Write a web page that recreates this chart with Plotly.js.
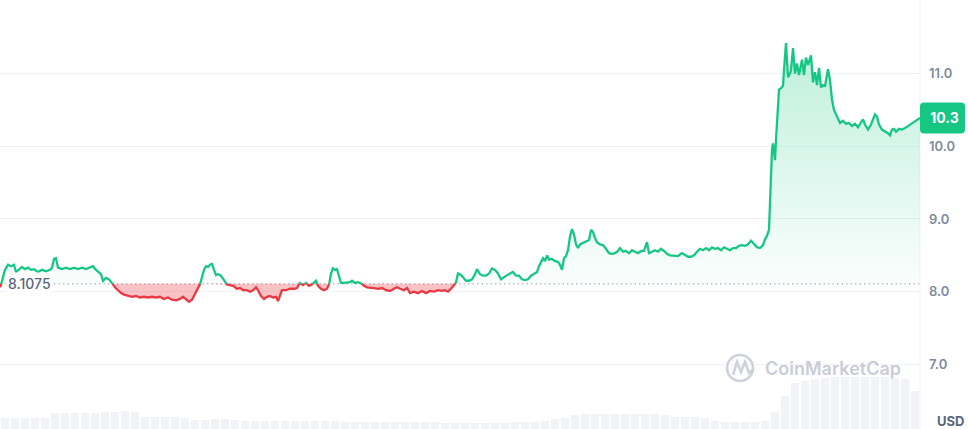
<!DOCTYPE html>
<html><head><meta charset="utf-8">
<script src="https://cdn.plot.ly/plotly-3.0.1.min.js"></script>
<style>html,body{margin:0;padding:0;background:#fff}#chart{width:968px;height:429px}</style>
</head><body><div id="chart"></div>
<script>
// ---- data ----
const basePrice = 8.1075;
const baseLabel = '8.1075';
const lastLabel = '10.3';
const currency = 'USD';
const brand = 'CoinMarketCap';
const yTickVals = [7, 8, 9, 10, 11];
const yTickText = ['7.0', '8.0', '9.0', '10.0', '11.0'];

const timeIdx = [0,1.5,5,8,11,14,16,19,22,25,28,31,34,38,42,46,50,52,54,56,58,62,66,70,74,78,82,86,90,93,96,99,101,103,106,109,112,115,118,121,124,128,132,136,140,144,148,152,156,160,164,168,172,176,180,183,186,189,192,195,198,200,202,204,206,208,210,212,214,216,218,220,222,224,227,230,233,237,240,243,247,250,253,256,258,261,264,267,270,273,276,278,280,282,286,290,294,297,300,303,306,309,312,315,316,318,321,324,327,329,331,333,335,337,339,341,344,347,350,352,355,358,361,364,367,370,374,378,382,386,390,394,397,400,404,407,410,414,418,422,426,430,434,438,442,445,448,451,454,456,458,461,463,466,469,472,475,477,480,483,486,489,492,495,498,501,504,507,510,513,516,519,522,525,528,531,534,537,539,541,543,545,547,549,552,555,558,560,562,564,566,568,570,572,574,576,578,580,583,586,589,591,593,595,597,600,603,606,609,612,615,618,620,623,626,629,632,635,638,641,644,647,649,652,655,658,661,664,667,670,674,678,682,685,688,691,694,697,700,703,706,709,712,715,718,721,724,727,730,733,736,739,742,745,748,751,754,757,760,763,765,767,769,770,771,772,773,774,775,776,777,778,779,781,783,784,786,788,790,791,793,795,797,799,802,804,806,808,811,813,815,817,819,821,823,825,828,830,832,834,836,838,840,843,846,849,852,855,858,861,863,865,868,871,873,875,877,879,882,885,888,890,892,894,896,899,902,905,908,911,914,917,920];
const price = [8.06,8.12,8.30,8.37,8.35,8.37,8.27,8.30,8.34,8.31,8.33,8.30,8.31,8.27,8.30,8.28,8.30,8.33,8.45,8.46,8.33,8.31,8.33,8.31,8.33,8.31,8.33,8.31,8.33,8.35,8.30,8.27,8.24,8.15,8.19,8.17,8.12,8.06,8.02,7.98,7.96,7.94,7.93,7.94,7.92,7.93,7.92,7.93,7.92,7.93,7.90,7.92,7.89,7.88,7.90,7.93,7.89,7.86,7.89,7.97,8.05,8.10,8.20,8.30,8.35,8.34,8.37,8.38,8.30,8.23,8.24,8.23,8.20,8.15,8.10,8.09,8.08,8.04,8.05,8.02,8.02,8.00,8.02,8.06,8.02,7.94,7.90,7.93,7.94,7.92,7.93,7.87,7.96,8.02,8.02,8.04,8.04,8.05,8.12,8.09,8.12,8.08,8.10,8.13,8.15,8.08,8.04,8.02,8.04,8.09,8.25,8.32,8.30,8.31,8.22,8.12,8.12,8.13,8.13,8.15,8.12,8.13,8.12,8.08,8.06,8.06,8.05,8.04,8.05,8.02,8.01,8.04,8.06,8.04,8.02,8.05,7.98,8.00,7.98,8.01,7.98,8.01,8.00,8.02,8.01,8.02,8.00,8.04,8.08,8.13,8.25,8.23,8.20,8.15,8.15,8.17,8.24,8.31,8.24,8.22,8.22,8.25,8.32,8.30,8.25,8.17,8.20,8.23,8.25,8.27,8.22,8.22,8.17,8.16,8.17,8.22,8.24,8.27,8.35,8.41,8.46,8.42,8.50,8.44,8.45,8.42,8.41,8.37,8.30,8.46,8.49,8.57,8.76,8.86,8.79,8.65,8.60,8.65,8.67,8.70,8.71,8.85,8.82,8.74,8.68,8.65,8.64,8.59,8.53,8.52,8.53,8.56,8.60,8.55,8.56,8.53,8.57,8.55,8.53,8.56,8.56,8.68,8.53,8.55,8.57,8.55,8.59,8.56,8.52,8.50,8.50,8.49,8.53,8.50,8.48,8.48,8.50,8.55,8.59,8.57,8.60,8.57,8.61,8.59,8.60,8.57,8.61,8.59,8.57,8.60,8.60,8.63,8.64,8.63,8.65,8.70,8.65,8.61,8.60,8.64,8.72,8.77,8.85,9.26,9.67,9.95,10.04,9.87,9.81,10.09,10.36,10.64,10.78,10.80,10.83,11.05,11.42,10.95,11.00,11.05,11.35,11.00,11.14,10.98,11.19,10.98,11.22,11.12,11.25,10.88,11.02,10.84,11.08,10.81,10.84,10.83,11.06,10.91,10.64,10.50,10.44,10.39,10.32,10.35,10.31,10.32,10.28,10.31,10.26,10.33,10.37,10.30,10.23,10.30,10.36,10.44,10.41,10.30,10.23,10.21,10.18,10.15,10.23,10.24,10.20,10.24,10.23,10.25,10.28,10.31,10.33,10.37,10.39];

const volTime = [5,15,25,35,45,55,65,75,85,95,105,115,125,135,145,155,165,175,185,195,205,215,225,235,245,255,265,275,285,295,305,315,325,335,345,355,365,375,385,395,405,415,425,435,445,455,465,475,485,495,505,515,525,535,545,555,565,575,585,595,605,615,625,635,645,655,665,675,685,695,705,715,725,735,745,755,765,775,785,795,805,815,825,835,845,855,865,875,885,895,905,915];
const volume = [11,11,11,11,11,16,16,16,16,16,17,17,18,17,12,12,12,12,11,9,9,10,10,9,8,8,8,8,8,8,8,8,8,8,7,7,7,7,7,7,7,7,7,7,6,6,6,6,6,6,6,7,7,7,8,10,11,14,15,15,15,15,15,15,15,15,14,12,12,12,11,8,7,7,7,7,8,17,33,46,48,50,51,52,52,52,52,52,52,51,50,38];

// ---- split into above / below baseline with interpolated crossings ----
const mx = [], mp = [];
for (let i = 0; i < price.length; i++) {
  if (i > 0) {
    const a = price[i-1] - basePrice, b = price[i] - basePrice;
    if (a * b < 0) {
      const t = a / (a - b);
      mx.push(timeIdx[i-1] + t * (timeIdx[i] - timeIdx[i-1]));
      mp.push(basePrice);
    }
  }
  mx.push(timeIdx[i]); mp.push(price[i]);
}
const upY = mp.map(v => Math.max(v, basePrice));
const loY = mp.map(v => Math.min(v, basePrice));
const greenLine = mp.map(v => v >= basePrice ? v : null);
const redLine = mp.map(v => v <= basePrice ? v : null);
const baseArr = mp.map(() => basePrice);
const maxP = Math.max(...price);

const GREEN = '#16c784', RED = '#ea3943';
const traces = [
  {type:'bar', x:volTime, y:volume, yaxis:'y2', marker:{color:'#f1f3f6', line:{width:0}}, hoverinfo:'skip'},
  {type:'scatter', mode:'lines', x:mx, y:baseArr, line:{width:0}, hoverinfo:'skip'},
  {type:'scatter', mode:'lines', x:mx, y:upY, line:{width:0}, fill:'tonexty',
   fillgradient:{type:'vertical', start:basePrice, stop:maxP,
     colorscale:[[0,'rgba(22,199,132,0.02)'],[1,'rgba(22,199,132,0.28)']]}, hoverinfo:'skip'},
  {type:'scatter', mode:'lines', x:mx, y:baseArr, line:{width:0}, hoverinfo:'skip'},
  {type:'scatter', mode:'lines', x:mx, y:loY, line:{width:0}, fill:'tonexty', fillcolor:'rgba(234,57,67,0.3)', hoverinfo:'skip'},
  {type:'scatter', mode:'lines', x:mx, y:greenLine, line:{color:GREEN, width:2.3}, connectgaps:false, hoverinfo:'skip'},
  {type:'scatter', mode:'lines', x:mx, y:redLine, line:{color:RED, width:2.3}, connectgaps:false, hoverinfo:'skip'}
];

// layout helpers for decorations (pixel -> paper)
const W = 968, H = 429, PW = 920;
const px = v => v / PW, py = v => 1 - v / H;
const lastPrice = price[price.length - 1];

const logoPath = 'M' + px(733) + ',' + py(375) + ' L' + px(737) + ',' + py(362) + ' L' + px(741) + ',' + py(372) +
  ' L' + px(745) + ',' + py(362) + ' L' + px(749) + ',' + py(373) + ' L' + px(752) + ',' + py(370);

const layout = {
  width: W, height: H,
  margin: {l:0, r:W-PW, t:0, b:0},
  paper_bgcolor:'#ffffff', plot_bgcolor:'#ffffff',
  showlegend:false, hovermode:false, bargap:0.15,
  font:{family:'Inter, "Noto Sans", sans-serif', color:'#808a9d'},
  xaxis:{range:[0, PW], visible:false, fixedrange:true},
  yaxis:{range:[6.111, 12.012], side:'right', tickvals:yTickVals, ticktext:yTickText,
    showgrid:true, gridcolor:'#eff2f5', gridwidth:1, zeroline:false, showline:false, ticks:'',
    ticklabelstandoff:8, tickfont:{size:13, color:'#808a9d', weight:600}, fixedrange:true},
  yaxis2:{range:[0, H], overlaying:'y', visible:false, fixedrange:true},
  shapes:[
    {type:'line', xref:'paper', yref:'paper', x0:1, x1:1, y0:0, y1:1, line:{color:'#eff2f5', width:1}, layer:'below'},
    {type:'line', xref:'paper', yref:'y', x0:0, x1:1, y0:basePrice, y1:basePrice, line:{color:'#99a1b3', width:1, dash:'1.5px,3px'}, layer:'below'},
    {type:'circle', xref:'paper', yref:'paper', x0:px(727), x1:px(753), y0:py(381), y1:py(355), line:{color:'#cdd2db', width:2.6}, layer:'above'},
    {type:'path', xref:'paper', yref:'paper', path:logoPath, line:{color:'#cdd2db', width:2.6}, layer:'above'},
    {type:'path', xref:'paper', xsizemode:'pixel', xanchor:1, yref:'y', ysizemode:'pixel', yanchor:lastPrice,
     path:'M4,-15.5 L41,-15.5 Q45,-15.5 45,-11.5 L45,11.5 Q45,15.5 41,15.5 L4,15.5 Q0,15.5 0,11.5 L0,-11.5 Q0,-15.5 4,-15.5 Z',
     fillcolor:GREEN, line:{width:0}, layer:'above'}
  ],
  annotations:[
    {xref:'paper', yref:'y', x:px(5), y:basePrice, xanchor:'left', yanchor:'middle', text:baseLabel, showarrow:false,
     font:{size:14, color:'#58667e', weight:500}, bgcolor:'rgba(255,255,255,0.85)', borderpad:2},
    {xref:'paper', yref:'y', x:1, y:lastPrice, xanchor:'left', yanchor:'middle', xshift:0, text:lastLabel, showarrow:false,
     width:45, height:31, align:'center', font:{size:14, color:'#ffffff', weight:700}},
    {xref:'paper', yref:'paper', x:px(935), y:py(421), xanchor:'left', yanchor:'middle', text:currency, showarrow:false,
     font:{size:13, color:'#58667e', weight:700}},
    {xref:'paper', yref:'paper', x:px(763), y:py(368), xanchor:'left', yanchor:'middle', text:brand, showarrow:false,
     font:{size:18, color:'#c8cdd6', weight:600}}
  ]
};
Plotly.newPlot('chart', traces, layout, {staticPlot:true, displayModeBar:false});
</script></body></html>
